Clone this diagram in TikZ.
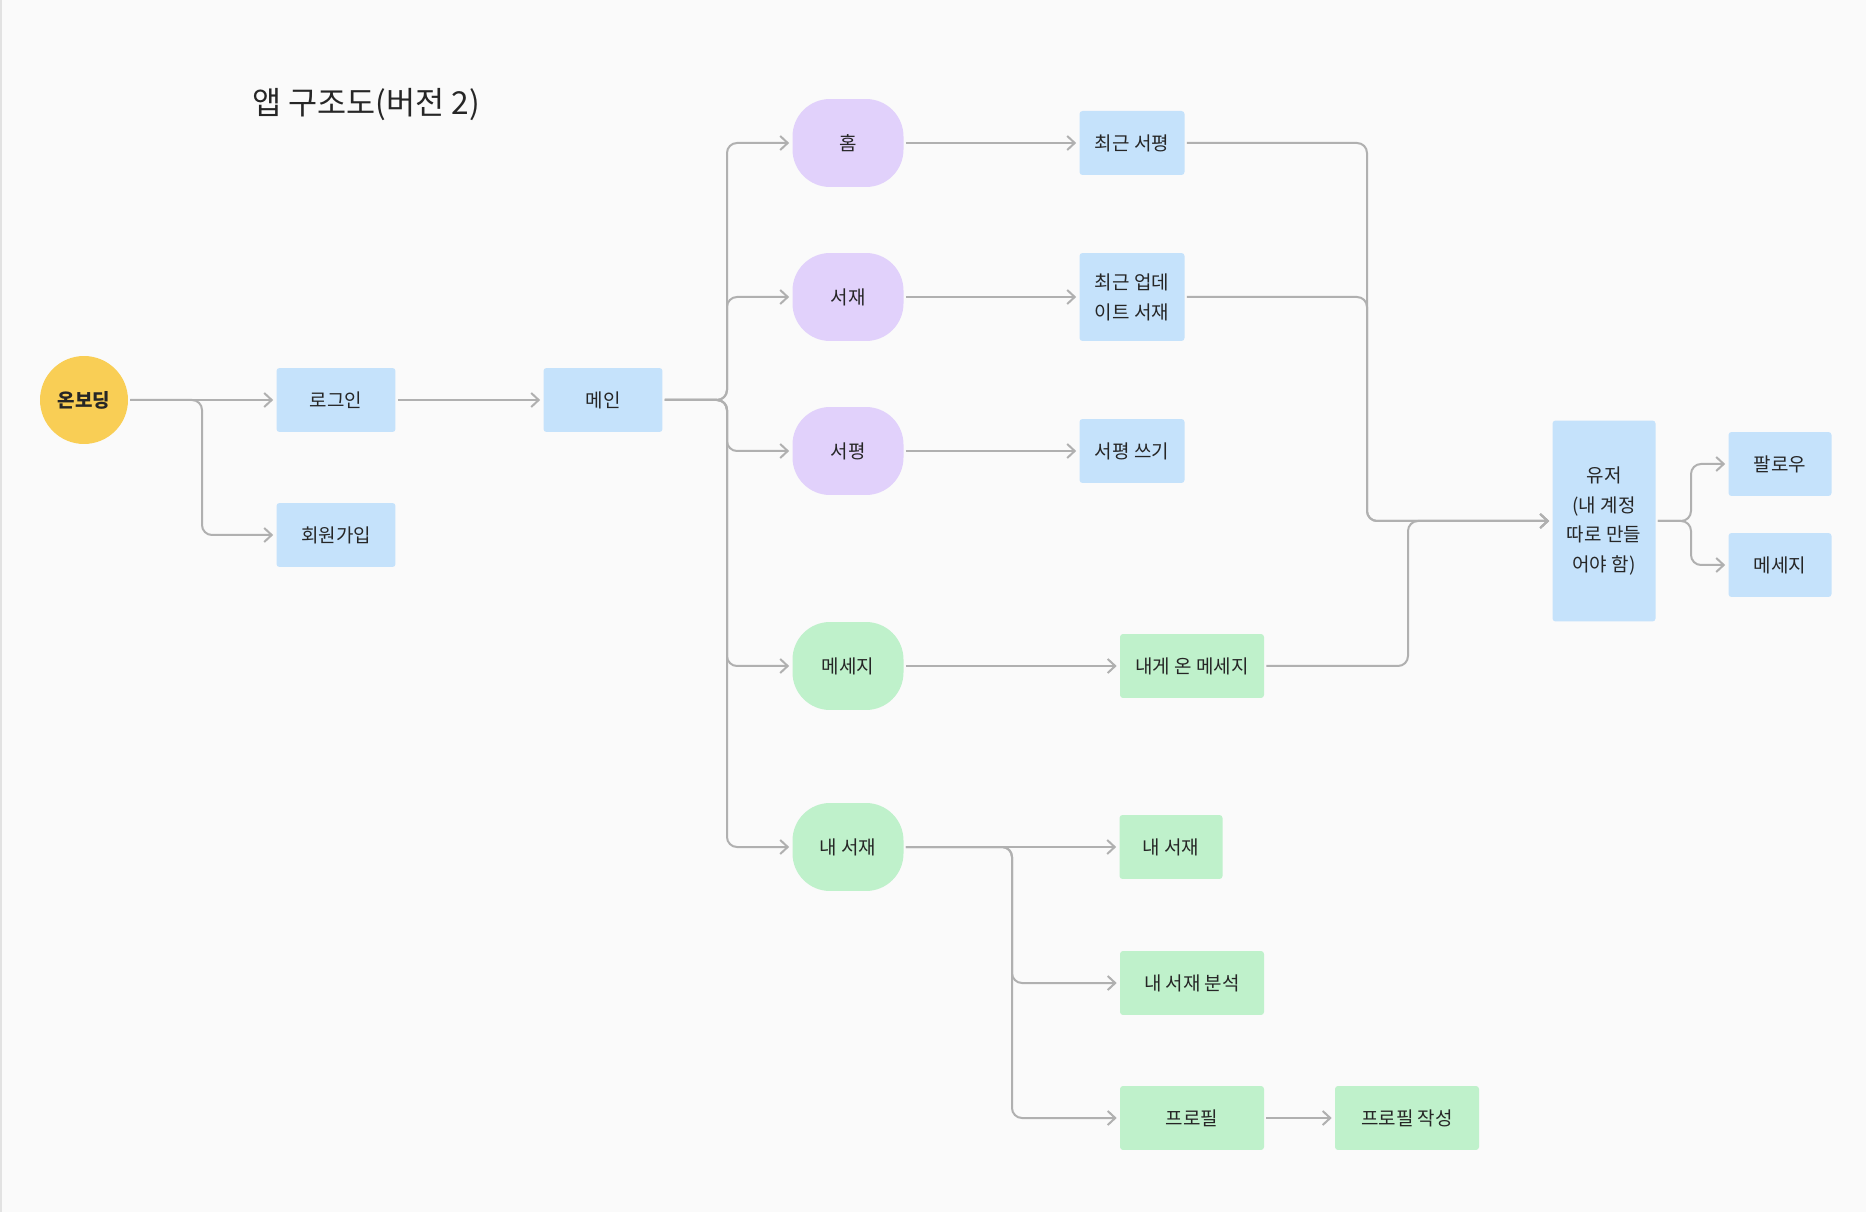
\documentclass[tikz,border=0pt]{standalone}
\usepackage{fontspec}
\setmainfont{Noto Sans CJK KR}
\usetikzlibrary{arrows.meta}
\tikzset{>={Straight Barb[length=1.5mm,width=2.8mm]}}
\definecolor{bgcol}{HTML}{FAFAFA}
\definecolor{edgecol}{HTML}{E2E2E2}
\definecolor{txtcol}{HTML}{262626}
\definecolor{linecol}{HTML}{B0B0B0}
\definecolor{boxblue}{HTML}{C5E2FB}
\definecolor{pillpurple}{HTML}{E1D1FB}
\definecolor{boxgreen}{HTML}{BFF1CB}
\definecolor{startyellow}{HTML}{F9CE55}
\tikzset{
    base/.style={text=txtcol, font=\fontsize{10.8}{17}\selectfont, inner sep=0pt, align=center},
    box/.style={base, rectangle, rounded corners=0.06cm, fill=boxblue, minimum height=1.28cm},
    pill/.style={base, rectangle, rounded corners=0.75cm, minimum width=2.22cm, minimum height=1.76cm},
    link/.style={->, draw=linecol, line width=0.04cm, rounded corners=0.2cm, shorten >=0.06cm, shorten <=0.04cm}
}

\begin{document}
\begin{tikzpicture}[x=0.02cm, y=-0.02cm]
    \useasboundingbox (0, 0) rectangle (1866, 1212);
    \fill[bgcol] (0, 0) rectangle (1866, 1212);
    \draw[edgecol, line width=0.03cm] (1, 0) -- (1, 1212);

    \node[text=txtcol, font=\fontsize{18}{21}\selectfont] (title) at (366, 105) {앱 구조도(버전 2)};

    \node[base, circle, fill=startyellow, minimum size=1.76cm, font=\fontsize{10.8}{17}\selectfont\bfseries] (onboard) at (84, 400) {온보딩};
    \node[box, minimum width=2.38cm] (login) at (336, 400) {로그인};
    \node[box, minimum width=2.38cm] (signup) at (336, 535) {회원가입};
    \node[box, minimum width=2.38cm] (main) at (603, 400) {메인};

    \node[pill, fill=pillpurple] (home) at (848, 143) {홈};
    \node[pill, fill=pillpurple] (shelf) at (848, 297) {서재};
    \node[pill, fill=pillpurple] (review) at (848, 451) {서평};
    \node[pill, fill=boxgreen] (msg) at (848, 666) {메세지};
    \node[pill, fill=boxgreen] (myshelf) at (848, 847) {내 서재};

    \node[box, minimum width=2.1cm] (recent) at (1132, 143) {최근 서평};
    \node[box, minimum width=2.1cm, minimum height=1.76cm] (update) at (1132, 297) {최근 업데\\이트 서재};
    \node[box, minimum width=2.1cm] (write) at (1132, 451) {서평 쓰기};
    \node[box, fill=boxgreen, minimum width=2.88cm] (inbox) at (1192, 666) {내게 온 메세지};
    \node[box, fill=boxgreen, minimum width=2.06cm] (shelfbox) at (1171, 847) {내 서재};
    \node[box, fill=boxgreen, minimum width=2.88cm] (analysis) at (1192, 983) {내 서재 분석};
    \node[box, fill=boxgreen, minimum width=2.88cm] (profile) at (1192, 1118) {프로필};
    \node[box, fill=boxgreen, minimum width=2.88cm] (profwrite) at (1407, 1118) {프로필 작성};

    \node[box, minimum width=2.06cm, minimum height=4.02cm] (user) at (1604, 521) {유저\\(내 계정\\따로 만들\\어야 함)};
    \node[box, minimum width=2.06cm] (follow) at (1780, 464) {팔로우};
    \node[box, minimum width=2.06cm] (usermsg) at (1780, 565) {메세지};

    \coordinate (jOn) at (202, 400);
    \coordinate (jMain) at (727, 400);
    \coordinate (jShelf) at (1012, 847);
    \coordinate (jRec) at (1367, 521);
    \coordinate (jIn) at (1408, 521);
    \coordinate (jUser) at (1691, 521);

    \draw[link] (onboard.east) -- (login.west);
    \draw[link] (onboard.east) -- (jOn) |- (signup.west);
    \draw[link] (login.east) -- (main.west);

    \draw[link] (main.east) -- (jMain) |- (home.west);
    \draw[link] (main.east) -- (jMain) |- (shelf.west);
    \draw[link] (main.east) -- (jMain) |- (review.west);
    \draw[link] (main.east) -- (jMain) |- (msg.west);
    \draw[link] (main.east) -- (jMain) |- (myshelf.west);

    \draw[link] (home.east) -- (recent.west);
    \draw[link] (shelf.east) -- (update.west);
    \draw[link] (review.east) -- (write.west);
    \draw[link] (msg.east) -- (inbox.west);

    \draw[link] (myshelf.east) -- (shelfbox.west);
    \draw[link] (myshelf.east) -- (jShelf) |- (analysis.west);
    \draw[link] (myshelf.east) -- (jShelf) |- (profile.west);
    \draw[link] (profile.east) -- (profwrite.west);

    \draw[link] (recent.east) -- (jRec |- recent.east) |- (user.west);
    \draw[link] (update.east) -- (jRec |- update.east) |- (user.west);
    \draw[link] (inbox.east) -- (jIn |- inbox.east) |- (user.west);

    \draw[link] (user.east) -- (jUser) |- (follow.west);
    \draw[link] (user.east) -- (jUser) |- (usermsg.west);
\end{tikzpicture}
\end{document}
